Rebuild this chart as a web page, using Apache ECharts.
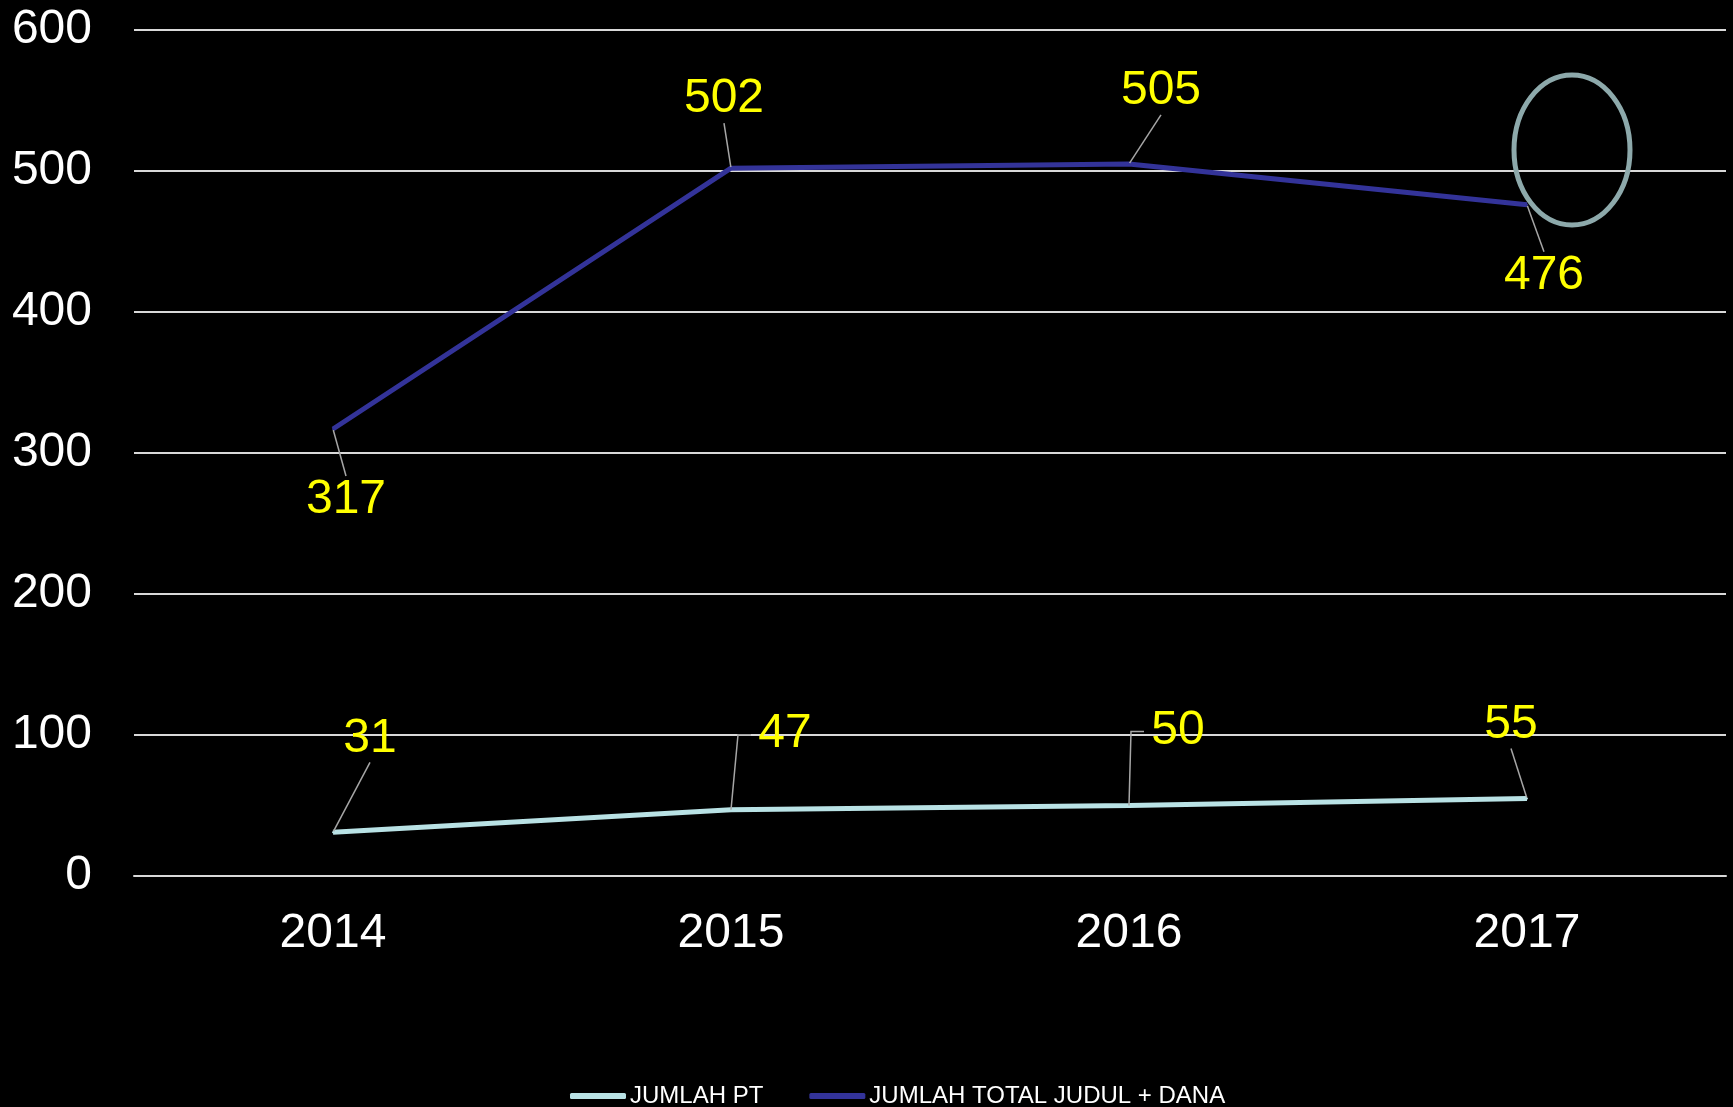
<!DOCTYPE html>
<html>
<head>
<meta charset="utf-8">
<style>
html,body{margin:0;padding:0;background:#000;}
#chart{width:1733px;height:1107px;}
</style>
<script src="https://cdn.jsdelivr.net/npm/echarts@6/dist/echarts.min.js"></script>
</head>
<body>
<div id="chart"></div>
<script>
const categories = ['2014', '2015', '2016', '2017'];
const jumlahPT = [31, 47, 50, 55];
const jumlahTotal = [317, 502, 505, 476];
const seriesNames = ['JUMLAH PT', 'JUMLAH TOTAL JUDUL + DANA'];

// label offsets (layout only)
const ptLabelOffsets = [[37, -94], [54, -76], [49, -75], [-16, -74]];
const ptElbowDx = [null, 7, 2, null];   // elbow-style leader lines (layout only)
const totalLabelOffsets = [[13, 71], [-7, -69], [32, -73], [17, 71]];

const chart = echarts.init(document.getElementById('chart'));
const font = '"Liberation Sans", Arial, sans-serif';

function labelCfg() {
  return {
    show: true,
    position: 'inside',
    color: '#FFFF00',
    fontSize: 48,
    fontFamily: font
  };
}

const ptData = jumlahPT.map((v, i) =>
  ptElbowDx[i] !== null ? { value: v, labelLine: { show: false } } : v);

const guideColor = '#A6A6A6';

chart.setOption({
  backgroundColor: '#000000',
  animation: false,
  grid: { left: 134, right: 7, top: 30, bottom: 231 },
  legend: {
    left: 565,
    top: 1079,
    itemWidth: 56,
    itemHeight: 6,
    itemGap: 46,
    icon: 'roundRect',
    textStyle: { color: '#FFFFFF', fontSize: 24, fontFamily: font, padding: [0, 0, 0, -1] },
    data: seriesNames
  },
  xAxis: {
    type: 'category',
    data: categories,
    boundaryGap: true,
    axisLine: { show: true, lineStyle: { color: '#D9D9D9', width: 2 } },
    axisTick: { show: false },
    axisLabel: { color: '#FFFFFF', fontSize: 48, fontFamily: font, margin: 34 }
  },
  yAxis: {
    type: 'value',
    min: 0,
    max: 600,
    interval: 100,
    axisLine: { show: false },
    axisTick: { show: false },
    splitLine: { lineStyle: { color: '#D9D9D9', width: 2 } },
    axisLabel: { color: '#FFFFFF', fontSize: 48, fontFamily: font, margin: 42 }
  },
  series: [
    {
      name: seriesNames[0],
      type: 'line',
      data: ptData,
      symbol: 'circle',
      symbolSize: 2,
      itemStyle: { color: '#B9E2E5' },
      lineStyle: { color: '#B9E2E5', width: 5 },
      label: labelCfg(),
      labelLine: { show: true, lineStyle: { color: guideColor, width: 1.5 } },
      labelLayout: function (p) {
        const o = ptLabelOffsets[p.dataIndex];
        return { dx: o[0], dy: o[1] };
      },
      z: 3
    },
    {
      name: seriesNames[1],
      type: 'line',
      data: jumlahTotal,
      symbol: 'circle',
      symbolSize: 2,
      itemStyle: { color: '#333399' },
      lineStyle: { color: '#333399', width: 5 },
      label: labelCfg(),
      labelLine: { show: true, lineStyle: { color: guideColor, width: 1.5 } },
      labelLayout: function (p) {
        const o = totalLabelOffsets[p.dataIndex];
        return { dx: o[0], dy: o[1] };
      },
      z: 3
    }
  ]
});

// Elbow leader lines anchored to data points via the chart's own scales
const graphics = [{
  type: 'ellipse',
  shape: { cx: 1572, cy: 150, rx: 58, ry: 75 },
  style: { fill: 'none', stroke: '#8DA9AB', lineWidth: 5 },
  z: 10
}];
jumlahPT.forEach((v, i) => {
  if (ptElbowDx[i] === null) return;
  const p = chart.convertToPixel({ seriesIndex: 0 }, [i, v]);
  const ly = p[1] + ptLabelOffsets[i][1] + 1;
  const ex = p[0] + ptElbowDx[i];
  graphics.push({
    type: 'polyline',
    shape: { points: [[p[0], p[1]], [ex, ly], [ex + 13, ly]] },
    style: { fill: 'none', stroke: guideColor, lineWidth: 1.5 },
    z: 5
  });
});
chart.setOption({ graphic: graphics });
</script>
</body>
</html>
